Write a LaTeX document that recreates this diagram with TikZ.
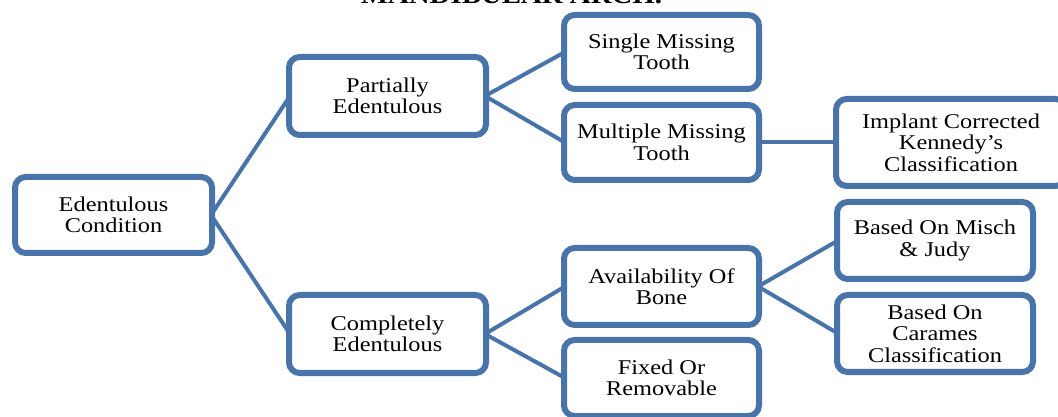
\documentclass[tikz,border=0pt]{standalone}
\usepackage{fontspec}
\setmainfont{Liberation Serif}[FakeStretch=1.16]
\usetikzlibrary{shadows,backgrounds}
\definecolor{boxblue}{RGB}{72,116,170}
\tikzset{
  box/.style={draw=boxblue, line width=4.5pt, fill=white, rounded corners=8pt,
    align=center, inner sep=0pt, text=black,
    font=\fontsize{15.75pt}{16.1pt}\selectfont,
    drop shadow={shadow xshift=1.2pt, shadow yshift=-1.8pt, fill=black!45, opacity=0.45}},
  link/.style={draw=boxblue, line width=3pt}
}
\begin{document}
\begin{tikzpicture}[x=0.75pt, y=-0.75pt]
\useasboundingbox (0,0) rectangle (1058,417);
\clip (0,0) rectangle (1058,417);
\node[anchor=base, font=\bfseries\fontsize{18.65pt}{20pt}\selectfont] (title) at (511.5,4) {MANDIBULAR ARCH.};
\node[box, minimum width=147.75pt, minimum height=57pt] (ec) at (113.5,215) {Edentulous\\Condition};
\node[box, minimum width=147.75pt, minimum height=58.5pt] (pe) at (387.5,96) {Partially\\Edentulous};
\node[box, minimum width=147.75pt, minimum height=58.5pt] (ce) at (387.5,334) {Completely\\Edentulous};
\node[box, minimum width=146.25pt, minimum height=55.5pt] (smt) at (661.5,52) {Single Missing\\Tooth};
\node[box, minimum width=146.25pt, minimum height=56.25pt] (mmt) at (661.5,142.5) {Multiple Missing\\Tooth};
\node[box, minimum width=146.25pt, minimum height=57.75pt] (aob) at (661.5,286.5) {Availability Of\\Bone};
\node[box, minimum width=146.25pt, minimum height=57pt] (for) at (661.5,378) {Fixed Or\\Removable};
\node[box, minimum width=172.5pt, minimum height=65.25pt] (ic) at (951,142.5) {Implant Corrected\\Kennedy’s\\Classification};
\node[box, minimum width=147pt, minimum height=57.75pt] (bmj) at (935,240.5) {Based On Misch\\\& Judy};
\node[box, minimum width=147pt, minimum height=57.75pt] (bcc) at (935,333.5) {Based On\\Carames\\Classification};
\begin{scope}[on background layer]
\draw[link] ([xshift=-3pt]ec.east) -- ([xshift=3pt]pe.west);
\draw[link] ([xshift=-3pt]ec.east) -- ([xshift=3pt]ce.west);
\draw[link] ([xshift=-3pt]pe.east) -- ([xshift=3pt]smt.west);
\draw[link] ([xshift=-3pt]pe.east) -- ([xshift=3pt]mmt.west);
\draw[link] ([xshift=-3pt]mmt.east) -- ([xshift=3pt]ic.west);
\draw[link] ([xshift=-3pt]ce.east) -- ([xshift=3pt]aob.west);
\draw[link] ([xshift=-3pt]ce.east) -- ([xshift=3pt]for.west);
\draw[link] ([xshift=-3pt]aob.east) -- ([xshift=3pt]bmj.west);
\draw[link] ([xshift=-3pt]aob.east) -- ([xshift=3pt]bcc.west);
\end{scope}
\end{tikzpicture}
\end{document}
